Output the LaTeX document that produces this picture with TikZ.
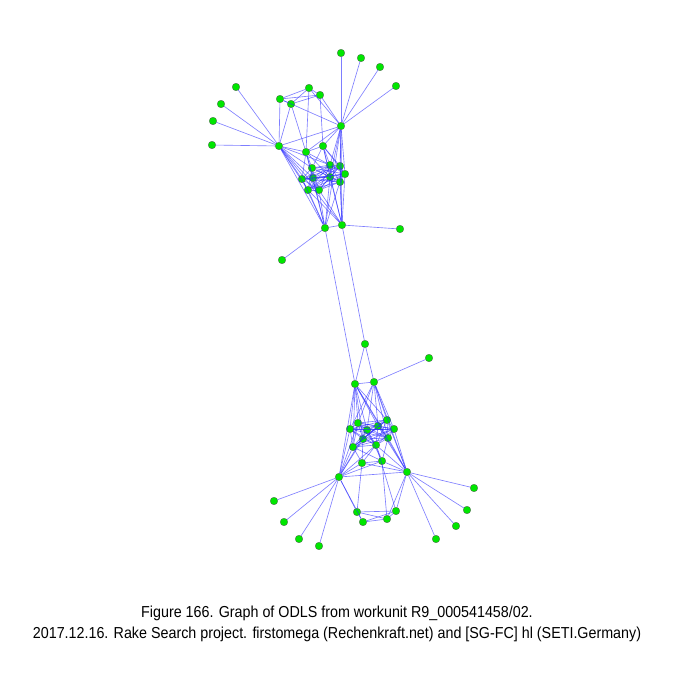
\documentclass[tikz,border=0pt]{standalone}
\usepackage{fontspec}
\setmainfont{Liberation Sans}
\newfontfamily\capfont[FakeStretch=0.9]{Liberation Sans}
\usepackage{tikz}

\definecolor{vgreen}{RGB}{0,230,0}
\definecolor{eblue}{RGB}{40,40,255}

\begin{document}
\begin{tikzpicture}[x=0.25mm, y=-0.25mm,
	v/.style={circle, fill=vgreen, draw=gray!70!black, line width=0.2pt, inner sep=0pt, minimum size=1.9mm},
	e/.style={eblue, line width=0.45pt, opacity=0.6},
	caption/.style={anchor=base, font=\capfont\fontsize{11.3}{13}\selectfont, inner sep=0pt}]
	\useasboundingbox (0,0) rectangle (675,675);
	% upper group
	\node[v] (tl1) at (236,87) {};
	\node[v] (tl2) at (221,104) {};
	\node[v] (tl3) at (213,121) {};
	\node[v] (tl4) at (212,145) {};
	\node[v] (tr1) at (341,53) {};
	\node[v] (tr2) at (361,58) {};
	\node[v] (tr3) at (380,67) {};
	\node[v] (tr4) at (396,86) {};
	\node[v] (hL) at (279,146) {};
	\node[v] (hR) at (341,126) {};
	\node[v] (q1) at (309,88) {};
	\node[v] (q2) at (320,95) {};
	\node[v] (q3) at (280,99) {};
	\node[v] (q4) at (291,104) {};
	\node[v] (m1) at (306,152) {};
	\node[v] (m2) at (323,146) {};
	\node[v] (c1) at (312,168) {};
	\node[v] (c2) at (330,165) {};
	\node[v] (c3) at (340,166) {};
	\node[v] (c4) at (302,179) {};
	\node[v] (c5) at (313,178) {};
	\node[v] (c6) at (330,177) {};
	\node[v] (c7) at (345,174) {};
	\node[v] (c8) at (340,182) {};
	\node[v] (c9) at (308,190) {};
	\node[v] (c10) at (319,190) {};
	\node[v] (b1) at (325,228) {};
	\node[v] (b2) at (342,225) {};
	\node[v] (bl) at (282,260) {};
	\node[v] (br) at (400,229) {};
	% lower group
	\node[v] (s1) at (365,344) {};
	\node[v] (s2) at (429,358) {};
	\node[v] (u1) at (355,384) {};
	\node[v] (u2) at (374,382) {};
	\node[v] (d1) at (358,423) {};
	\node[v] (d2) at (387,420) {};
	\node[v] (d3) at (350,429) {};
	\node[v] (d4) at (367,430) {};
	\node[v] (d5) at (378,426) {};
	\node[v] (d6) at (394,429) {};
	\node[v] (d7) at (363,439) {};
	\node[v] (d8) at (388,438) {};
	\node[v] (d9) at (353,447) {};
	\node[v] (d10) at (376,445) {};
	\node[v] (d11) at (362,463) {};
	\node[v] (d12) at (382,461) {};
	\node[v] (g1) at (339,477) {};
	\node[v] (g2) at (407,472) {};
	\node[v] (gl1) at (274,501) {};
	\node[v] (gl2) at (284,522) {};
	\node[v] (gl3) at (299,539) {};
	\node[v] (gl4) at (319,546) {};
	\node[v] (gr1) at (474,488) {};
	\node[v] (gr2) at (467,510) {};
	\node[v] (gr3) at (456,526) {};
	\node[v] (gr4) at (436,539) {};
	\node[v] (r1) at (357,512) {};
	\node[v] (r2) at (363,522) {};
	\node[v] (r3) at (387,519) {};
	\node[v] (r4) at (396,511) {};

	% upper edges
	\foreach \a/\b in {tl1/hL, tl2/hL, tl3/hL, tl4/hL, tr1/hR, tr2/hR, tr3/hR, tr4/hR, hL/hR,
		q1/q2, q1/q3, q1/q4, q2/q3, q2/q4, q3/q4, q3/hL, q4/hL, q1/hR, q2/hR, q2/m2, q1/m1, q4/m1, q3/hR,
		hL/m1, hL/c1, hL/c4, hL/c5, hL/c9, hL/c10, hL/c2, hL/b1, hL/b2,
		hR/m1, hR/m2, hR/c2, hR/c3, hR/c6, hR/c7, hR/c8, hR/b1, hR/b2,
		m1/c1, m1/c4, m1/c5, m1/c2, m1/c6, m1/m2, m2/c2, m2/c3, m2/c6, m2/c7, m2/c1,
		b1/c4, b1/c5, b1/c9, b1/c10, b1/c8, b1/c6, b1/m1, b1/b2, b1/bl,
		b2/c3, b2/c7, b2/c8, b2/c6, b2/c10, b2/c9, b2/m2, b2/br,
		b1/u1, b2/s1}
		\draw[e] (\a) -- (\b);
	\foreach \i in {1,...,9}{
		\pgfmathtruncatemacro{\j}{\i+1}
		\foreach \k in {\j,...,10}
			\draw[e] (c\i) -- (c\k);
	}
	% lower edges
	\foreach \a/\b in {s1/u1, s1/u2, u1/u2, u2/s2,
		u1/d1, u1/d3, u1/d4, u1/d5, u1/d7, u1/d9, u1/d8, u1/g1, u1/g2, u1/d2,
		u2/d2, u2/d4, u2/d5, u2/d6, u2/d3, u2/d1, u2/g2, u2/d8,
		g1/g2, g1/d3, g1/d7, g1/d9, g1/d11, g1/d12, g1/d1, g1/d4, g1/d10,
		g2/d2, g2/d6, g2/d8, g2/d10, g2/d12, g2/d11, g2/d5,
		g1/r1, g1/r2, g2/r3, g2/r4, g1/gl1, g1/gl2, g1/gl3, g1/gl4, g2/gr1, g2/gr2, g2/gr3, g2/gr4,
		r1/r2, r2/r3, r3/r4, r1/r4, r1/r3, r2/r4, r1/d11, r3/d12, r4/d10,
		d11/d12, d11/d9, d11/d7, d11/d10, d12/d8, d12/d10, d12/d4, d9/d12}
		\draw[e] (\a) -- (\b);
	\foreach \i in {1,...,9}{
		\pgfmathtruncatemacro{\j}{\i+1}
		\foreach \k in {\j,...,10}
			\draw[e] (d\i) -- (d\k);
	}

	\node[caption] (cap1) at (337,617) {Figure 166. Graph of ODLS from workunit R9\_000541458/02.};
	\node[caption] (cap2) at (337,638) {2017.12.16. Rake Search project. firstomega (Rechenkraft.net) and [SG-FC] hl (SETI.Germany)};
\end{tikzpicture}
\end{document}
